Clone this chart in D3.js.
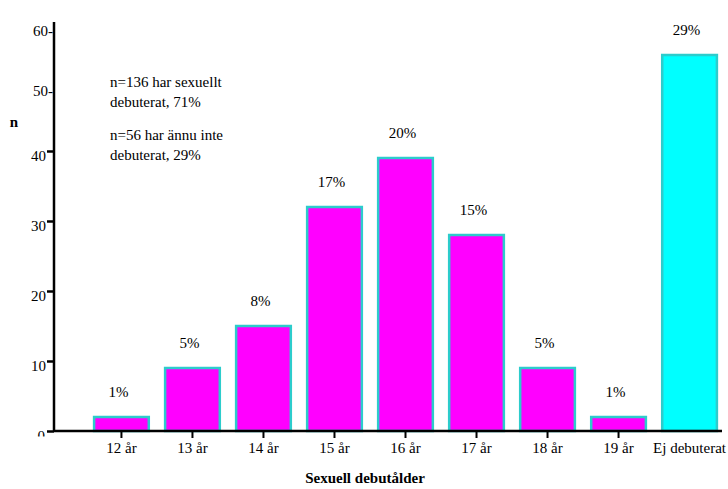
<!DOCTYPE html>
<html>
<head>
<meta charset="utf-8">
<script src="https://cdn.jsdelivr.net/npm/d3@7"></script>
<style>
  body { margin: 0; background: #fff; }
</style>
</head>
<body>
<svg width="728" height="489"></svg>
<script>
// данные
const categories = ["12 år", "13 år", "14 år", "15 år", "16 år", "17 år", "18 år", "19 år", "Ej debuterat"];
const counts = [2, 9, 15, 32, 39, 28, 9, 2, 56];
const percents = ["1%", "5%", "8%", "17%", "20%", "15%", "5%", "1%", "29%"];
const tickedY = [0, 10, 20, 30, 40];
const dashedY = [50, 60];
const notes = [["n=136 har sexuellt", "debuterat, 71%"], ["n=56 har ännu inte", "debuterat, 29%"]];

const FONT = "Liberation Serif";
const svg = d3.select("svg");

// обрезка подписи "0" снизу, как в оригинале (координаты деления)
svg.append("defs").append("clipPath").attr("id", "clipZero")
    .append("rect").attr("x", -60).attr("y", -20).attr("width", 60).attr("height", 25);

// шкалы (ось OY в оригинале неравномерная выше 40)
const scX = d3.scaleBand()
    .domain(categories)
    .range([87, 724])
    .paddingInner(0.23)
    .paddingOuter(0.1);

const scY = d3.scaleLinear()
    .domain([0, 40, 60])
    .range([431, 151, 31]);

// столбики
svg.selectAll("rect.bar")
    .data(categories)
    .enter()
    .append("rect")
    .attr("class", "bar")
    .attr("x", d => scX(d))
    .attr("y", (d, i) => scY(counts[i]))
    .attr("width", scX.bandwidth())
    .attr("height", (d, i) => scY(0) - scY(counts[i]))
    .style("fill", (d, i) => i === categories.length - 1 ? "#00ffff" : "#ff00ff")
    .style("stroke", "#2ccccc")
    .style("stroke-width", 2.5);

// подписи процентов
svg.selectAll("text.pct")
    .data(categories)
    .enter()
    .append("text")
    .attr("class", "pct")
    .attr("x", d => scX(d) + scX.bandwidth() / 2 - 3)
    .attr("y", (d, i) => scY(counts[i]) - 20)
    .attr("text-anchor", "middle")
    .style("font-family", FONT)
    .style("font-size", "15px")
    .text((d, i) => percents[i]);

// ось OX
const axisX = svg.append("g")
    .attr("transform", `translate(0, ${scY(0)})`)
    .call(d3.axisBottom(scX).tickSize(7).tickPadding(4));
axisX.select(".domain").remove();
axisX.selectAll(".tick line").style("stroke-width", 2)
    .style("opacity", d => d === "Ej debuterat" ? 0 : 1);
axisX.selectAll(".tick text")
    .style("font-family", FONT)
    .style("font-size", "15px")
    .attr("fill", "#000");

svg.append("line")
    .attr("x1", 54).attr("x2", 722)
    .attr("y1", scY(0)).attr("y2", scY(0))
    .style("stroke", "#000").style("stroke-width", 2.5);

// ось OY
const axisY = svg.append("g")
    .attr("transform", "translate(54, 0)")
    .call(d3.axisLeft(scY).tickValues(tickedY).tickSize(7).tickPadding(1));
axisY.select(".domain").remove();
axisY.selectAll(".tick line").style("stroke-width", 2.5);
axisY.selectAll(".tick text")
    .attr("dy", "0.65em")
    .style("font-family", FONT)
    .style("font-size", "15px")
    .attr("fill", "#000");
axisY.selectAll(".tick").filter(d => d === 0).select("text")
    .attr("x", -9)
    .attr("dy", "0.6em")
    .attr("clip-path", "url(#clipZero)");

const axisY2 = svg.append("g")
    .attr("transform", "translate(54, 0)")
    .call(d3.axisLeft(scY).tickValues(dashedY).tickSize(0).tickPadding(1).tickFormat(d => d + "-"));
axisY2.select(".domain").remove();
axisY2.selectAll(".tick text")
    .style("font-family", FONT)
    .style("font-size", "15px")
    .attr("fill", "#000");

svg.append("line")
    .attr("x1", 54).attr("x2", 54)
    .attr("y1", 22).attr("y2", scY(0))
    .style("stroke", "#000").style("stroke-width", 2.5);

// подписи осей
svg.append("text")
    .attr("x", 14).attr("y", 127)
    .attr("text-anchor", "middle")
    .style("font-family", FONT)
    .style("font-size", "15px").style("font-weight", "bold")
    .text("n");

svg.append("text")
    .attr("x", 365).attr("y", 483)
    .attr("text-anchor", "middle")
    .style("font-family", FONT)
    .style("font-size", "15px").style("font-weight", "bold")
    .text("Sexuell debutålder");

// пояснения
notes.forEach((lines, k) => {
    lines.forEach((line, j) => {
        svg.append("text")
            .attr("x", 110)
            .attr("y", 87 + k * 53 + j * 20)
            .style("font-family", FONT)
            .style("font-size", "15px")
            .text(line);
    });
});
</script>
</body>
</html>
